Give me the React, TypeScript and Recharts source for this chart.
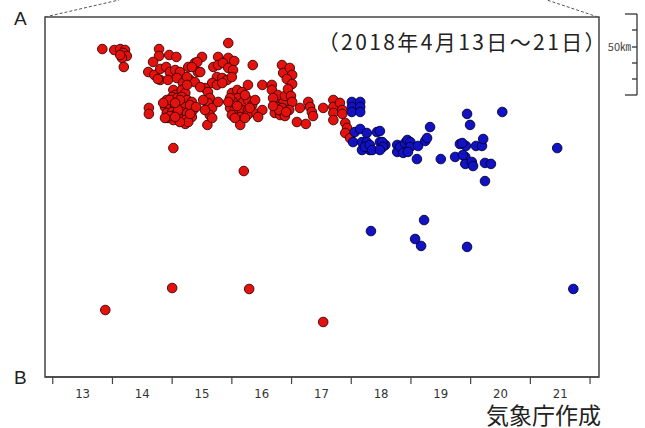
import { ReferenceArea, Scatter, ScatterChart, XAxis, YAxis } from "recharts";

// 2018-04-13 .. 21 hypocenters projected on the A-B line: [day of April, distance from A in km]
const RED_EVENTS: [number, number][] = [
  [13.83, 19.8], [14.03, 20.4], [14.13, 19.8], [14.21, 20.4], [14.18, 22.2], [14.24, 24.1], [14.16, 25.3], [14.13, 23.5], [14.19, 30.9],
  [14.78, 19.8], [14.78, 24.1], [14.95, 23.5], [15.07, 24.7], [14.68, 27.8], [14.6, 34.0], [14.7, 35.8], [14.8, 32.1], [14.9, 30.9],
  [14.96, 34.0], [15.05, 32.8], [15.13, 34.0], [14.8, 38.9], [14.93, 38.9], [15.08, 37.7], [15.18, 40.8], [15.3, 38.9], [15.38, 40.2],
  [15.27, 30.9], [15.38, 28.4], [15.43, 34.0], [15.5, 24.7], [15.02, 45.1], [15.05, 48.2], [15.16, 45.1], [15.22, 47.0], [15.25, 37.1],
  [15.25, 42.0], [14.76, 38.3],
  [15.94, 16.1], [15.77, 24.7], [15.94, 25.3], [16.04, 27.2], [15.69, 30.9], [15.77, 29.7], [15.85, 28.4], [15.94, 31.5], [16.02, 32.8],
  [15.42, 27.8], [15.33, 30.9], [15.47, 34.0], [15.75, 37.1], [15.84, 37.7], [15.92, 38.9], [16.0, 37.1], [15.67, 40.8], [15.75, 42.0],
  [15.84, 40.8], [15.55, 43.9], [15.47, 43.3], [15.6, 46.4], [15.63, 50.1], [15.6, 53.1], [15.67, 56.2], [15.63, 60.6], [15.59, 66.7],
  [15.77, 52.5], [15.55, 57.5], [15.67, 62.4], [15.52, 51.3],
  [16.35, 29.7], [16.27, 42.0], [16.51, 42.0], [16.67, 42.0], [16.67, 45.1], [16.84, 29.7], [16.86, 34.6],
  [16.0, 47.0], [16.09, 45.1], [16.17, 46.4], [16.1, 50.1], [16.02, 52.5], [16.19, 52.5], [16.27, 51.3], [16.34, 54.4], [15.97, 56.2],
  [16.05, 57.5], [16.17, 57.5], [16.27, 57.5], [16.35, 58.7], [16.0, 60.6], [16.14, 61.8], [16.26, 60.6], [16.14, 66.7],
  [15.97, 50.1], [16.22, 48.2], [16.3, 56.2], [16.09, 55.0], [16.22, 62.4], [16.39, 51.3], [16.05, 62.4], [15.94, 52.5],
  [16.51, 57.5], [16.44, 61.8],
  [16.72, 52.5], [16.81, 51.3], [16.86, 53.1], [16.76, 55.6], [16.84, 56.2], [16.72, 59.3], [16.81, 60.6], [16.77, 48.2],
  [16.69, 50.1], [16.89, 48.8], [16.79, 57.5], [16.69, 55.0], [16.89, 61.2],
  [14.91, 51.3], [15.0, 49.4], [15.08, 50.1], [15.16, 49.4], [15.25, 51.3], [14.88, 55.6], [14.96, 54.4], [15.05, 55.6], [15.13, 54.4],
  [15.22, 55.6], [14.91, 59.3], [15.0, 58.7], [15.08, 59.3], [15.16, 58.7], [15.25, 59.3], [14.93, 62.4], [15.02, 63.7], [15.1, 62.4],
  [15.22, 63.7], [15.22, 66.1], [15.33, 52.5], [15.35, 57.5], [15.33, 61.8], [15.27, 64.9],
  [14.96, 51.3], [15.13, 51.3], [14.85, 53.1], [15.1, 57.5], [15.3, 54.4], [14.96, 61.2], [15.13, 64.9], [15.3, 59.9], [15.4, 55.6],
  [15.05, 53.1], [14.88, 62.4], [15.05, 61.8],
  [14.61, 56.2], [14.61, 59.9],
  [16.97, 31.5], [17.01, 35.8], [16.92, 38.3], [17.01, 41.4], [16.94, 44.5], [16.99, 48.8], [17.01, 52.5], [16.96, 57.5], [16.91, 58.7],
  [17.14, 56.2], [17.28, 52.5], [17.31, 55.6], [17.34, 58.7], [17.36, 61.2], [17.09, 64.9], [17.24, 66.1], [17.53, 56.2], [17.7, 51.3],
  [17.7, 55.6], [17.7, 59.3], [17.7, 63.7], [17.81, 53.1], [17.85, 57.5], [17.85, 59.9], [17.9, 65.5], [17.93, 68.6], [17.9, 71.7],
  [17.98, 74.8],
  [15.02, 81.0], [16.2, 95.2], [13.88, 181.1], [15.0, 167.5], [16.29, 168.1], [17.53, 188.5],
];

const BLUE_EVENTS: [number, number][] = [
  [18.01, 52.5], [18.01, 55.6], [18.01, 58.7], [18.15, 52.5], [18.15, 55.6], [18.15, 58.7],
  [18.06, 71.1], [18.15, 69.2], [18.26, 71.7], [18.03, 77.3], [18.18, 77.3], [18.26, 77.3], [18.18, 82.2], [18.31, 82.2], [18.23, 80.3],
  [18.43, 71.1], [18.48, 70.5], [18.48, 77.3], [18.57, 79.1], [18.31, 79.1], [18.35, 82.2], [18.52, 77.3], [18.53, 80.3], [18.48, 82.2],
  [18.77, 79.1], [18.77, 83.4], [18.82, 80.3], [18.87, 84.0], [18.9, 77.9], [18.94, 76.0], [18.99, 77.3], [18.99, 80.3], [18.95, 83.4],
  [19.1, 87.8], [19.12, 79.7], [19.24, 76.6], [19.27, 74.8], [19.32, 68.0],
  [19.5, 87.8], [19.74, 86.5], [19.82, 78.5], [19.92, 79.7], [19.91, 86.5], [19.91, 90.8], [20.02, 89.6], [20.09, 79.7], [20.19, 79.7],
  [20.21, 75.4], [20.24, 90.2], [20.34, 90.8], [19.94, 59.9], [19.99, 66.7], [20.53, 58.7], [20.24, 101.4], [19.86, 77.9], [20.04, 92.1],
  [19.87, 85.3],
  [21.45, 81.0], [21.72, 168.1], [18.33, 132.3], [19.22, 125.5], [19.07, 137.2], [19.17, 141.5], [19.94, 142.1],
];

const DAY_TICKS = [13, 14, 15, 16, 17, 18, 19, 20, 21, 22];
const DAY_LABELS = ["13", "14", "15", "16", "17", "18", "19", "20", "21"];

const X_MIN = 12.87;
const X_MAX = 22.15;
const Y_MAX = 222.5;
const DAY_PX = 59.7;

const redData = RED_EVENTS.map(([day, km]) => ({ day, km }));
const blueData = BLUE_EVENTS.map(([day, km]) => ({ day, km }));

const FRAME = "#444";

function Dot(fill: string, stroke: string) {
  return (props: any) => (
    <circle cx={props.cx} cy={props.cy} r={4.8} fill={fill} stroke={stroke} strokeWidth={0.9} />
  );
}

function DayTick(props: any) {
  const { x, y, payload } = props;
  const idx = DAY_TICKS.indexOf(payload.value);
  const label = DAY_LABELS[idx];
  if (!label) return null;
  return (
    <text
      x={x + DAY_PX / 2}
      y={y + 14}
      textAnchor="middle"
      fill="#333"
      fontSize={13}
      fontFamily="'Liberation Sans Narrow', 'DejaVu Sans Condensed', Arial, sans-serif"
    >
      {label}
    </text>
  );
}

export default function App() {
  return (
    <div style={{ position: "absolute", left: 0, top: 0, width: 645, height: 428, background: "#fff" }}>
      <ScatterChart width={645} height={428} margin={{ top: 17, right: 46, bottom: 21, left: 45 }}>
        <XAxis
          type="number"
          dataKey="day"
          domain={[X_MIN, X_MAX]}
          ticks={DAY_TICKS}
          allowDataOverflow
          height={30}
          axisLine={{ stroke: FRAME, strokeWidth: 1.5 }}
          tickLine={{ stroke: FRAME, strokeWidth: 1.2 }}
          tickSize={7}
          tickMargin={0}
          tick={<DayTick />}
        />
        <YAxis type="number" dataKey="km" domain={[0, Y_MAX]} reversed hide />
        <ReferenceArea
          x1={X_MIN}
          x2={X_MAX}
          y1={0}
          y2={Y_MAX}
          fill="none"
          stroke={FRAME}
          strokeWidth={1.5}
          fillOpacity={0}
        />
        <Scatter data={redData} shape={Dot("#e3120f", "#3a0000")} isAnimationActive={false} />
        <Scatter data={blueData} shape={Dot("#1212c2", "#00003a")} isAnimationActive={false} />
      </ScatterChart>

      <svg
        width={645}
        height={428}
        style={{ position: "absolute", left: 0, top: 0, pointerEvents: "none" }}
      >
        <line x1={45} y1={17} x2={119} y2={0} stroke="#555" strokeDasharray="3 2" />
        <line x1={598} y1={17} x2={547} y2={0} stroke="#555" strokeDasharray="3 2" />
        <text x={14} y={25} fontSize={19} fill="#222" fontFamily="'Liberation Sans', Arial, sans-serif">A</text>
        <text x={14} y={384} fontSize={19} fill="#222" fontFamily="'Liberation Sans', Arial, sans-serif">B</text>
        <text
          x={608}
          y={50}
          textAnchor="end"
          fontSize={21}
          letterSpacing={2.4}
          fill="#222"
          fontFamily="'Noto Sans CJK JP', sans-serif"
        >
          （2018年4月13日～21日）
        </text>
        <text
          x={601}
          y={424}
          textAnchor="end"
          fontSize={23}
          fill="#222"
          fontFamily="'Noto Sans CJK JP', sans-serif"
        >
          気象庁作成
        </text>
        {/* 50 km scale bar */}
        <g stroke="#333" strokeWidth={1.3}>
          <line x1={637} y1={14} x2={637} y2={95} />
          <line x1={625} y1={14} x2={637} y2={14} />
          <line x1={625} y1={95} x2={637} y2={95} />
          <line x1={632} y1={30} x2={637} y2={30} />
          <line x1={632} y1={47} x2={637} y2={47} />
          <line x1={632} y1={63} x2={637} y2={63} />
          <line x1={632} y1={79} x2={637} y2={79} />
        </g>
        <text x={631} y={51} textAnchor="end" fontSize={11} fill="#444" fontFamily="'Noto Sans CJK JP', sans-serif">
          50㎞
        </text>
      </svg>
    </div>
  );
}
